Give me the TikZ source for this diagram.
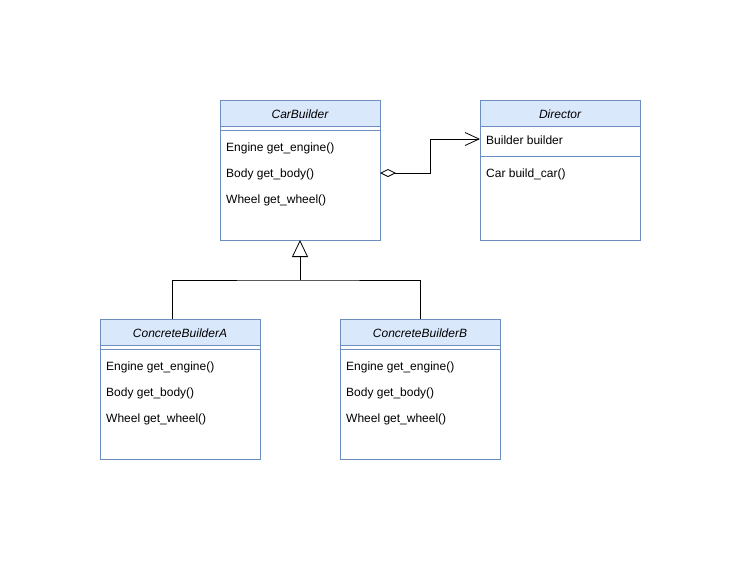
\documentclass[tikz,border=0pt]{standalone}
\usepackage{fontspec}
\setmainfont{Liberation Sans}
\usetikzlibrary{arrows.meta}
\definecolor{hdrfill}{HTML}{DAE8FC}
\definecolor{hdrline}{HTML}{6C8EBF}
\begin{document}
\begin{tikzpicture}[x=1pt,y=-1pt,
  cls/.style={draw=hdrline, line width=0.8pt, fill=white, minimum width=160pt, inner sep=0pt, outer sep=0pt, anchor=north west},
  hdr/.style={draw=hdrline, line width=0.8pt, fill=hdrfill, minimum width=160pt, minimum height=26pt, inner sep=0pt, outer sep=0pt, anchor=north west, font=\fontsize{12}{14}\selectfont\itshape, text depth=0pt, text height=10pt},
  sep/.style={draw=hdrline, line width=0.8pt},
  item/.style={anchor=west, inner sep=0pt, yshift=-1.5pt, font=\fontsize{12}{14}\selectfont},
  conn/.style={draw=black, line width=0.8pt}
]
\useasboundingbox (0,0) rectangle (749,560);
% CarBuilder
\node[cls, minimum height=140pt] (cb) at (220,100) {};
\node[hdr] (cbh) at (cb.north west) {CarBuilder};
\draw[sep] ([yshift=-4pt]cbh.south west) -- ([yshift=-4pt]cbh.south east);
\node[item] (cb1) at (226,147) {Engine get\_engine()};
\node[item] (cb2) at (226,173) {Body get\_body()};
\node[item] (cb3) at (226,199) {Wheel get\_wheel()};
% Director
\node[cls, minimum height=140pt] (dir) at (480,100) {};
\node[hdr] (dirh) at (dir.north west) {Director};
\node[item] (dir1) at (486,139) {Builder builder};
\draw[sep] ([yshift=-30pt]dirh.south west) -- ([yshift=-30pt]dirh.south east);
\node[item] (dir2) at (486,173) {Car build\_car()};
% ConcreteBuilderA
\node[cls, minimum height=140pt] (ca) at (100,319) {};
\node[hdr] (cah) at (ca.north west) {ConcreteBuilderA};
\draw[sep] ([yshift=-4pt]cah.south west) -- ([yshift=-4pt]cah.south east);
\node[item] (ca1) at (106,366) {Engine get\_engine()};
\node[item] (ca2) at (106,392) {Body get\_body()};
\node[item] (ca3) at (106,418) {Wheel get\_wheel()};
% ConcreteBuilderB
\node[cls, minimum height=140pt] (cbb) at (340,319) {};
\node[hdr] (cbbh) at (cbb.north west) {ConcreteBuilderB};
\draw[sep] ([yshift=-4pt]cbbh.south west) -- ([yshift=-4pt]cbbh.south east);
\node[item] (cbb1) at (346,366) {Engine get\_engine()};
\node[item] (cbb2) at (346,392) {Body get\_body()};
\node[item] (cbb3) at (346,418) {Wheel get\_wheel()};
% aggregation
\coordinate (bend) at (430,0);
\coordinate (aggs) at (380,173);
\coordinate (agge) at (480,139);
\draw[conn, {Diamond[open, length=16pt, width=8pt]}-{Straight Barb[length=14pt, width=13pt]}]
  (aggs) -| (bend |- agge) -- (agge);
% inheritance
\coordinate (junc) at (300,280);
\draw[conn, -{Triangle[open, length=17pt, width=16pt]}] (junc) -- (cb.south);
\draw[conn] ([xshift=-8pt]ca.north) |- (junc) -| (cbb.north);
\end{tikzpicture}
\end{document}
